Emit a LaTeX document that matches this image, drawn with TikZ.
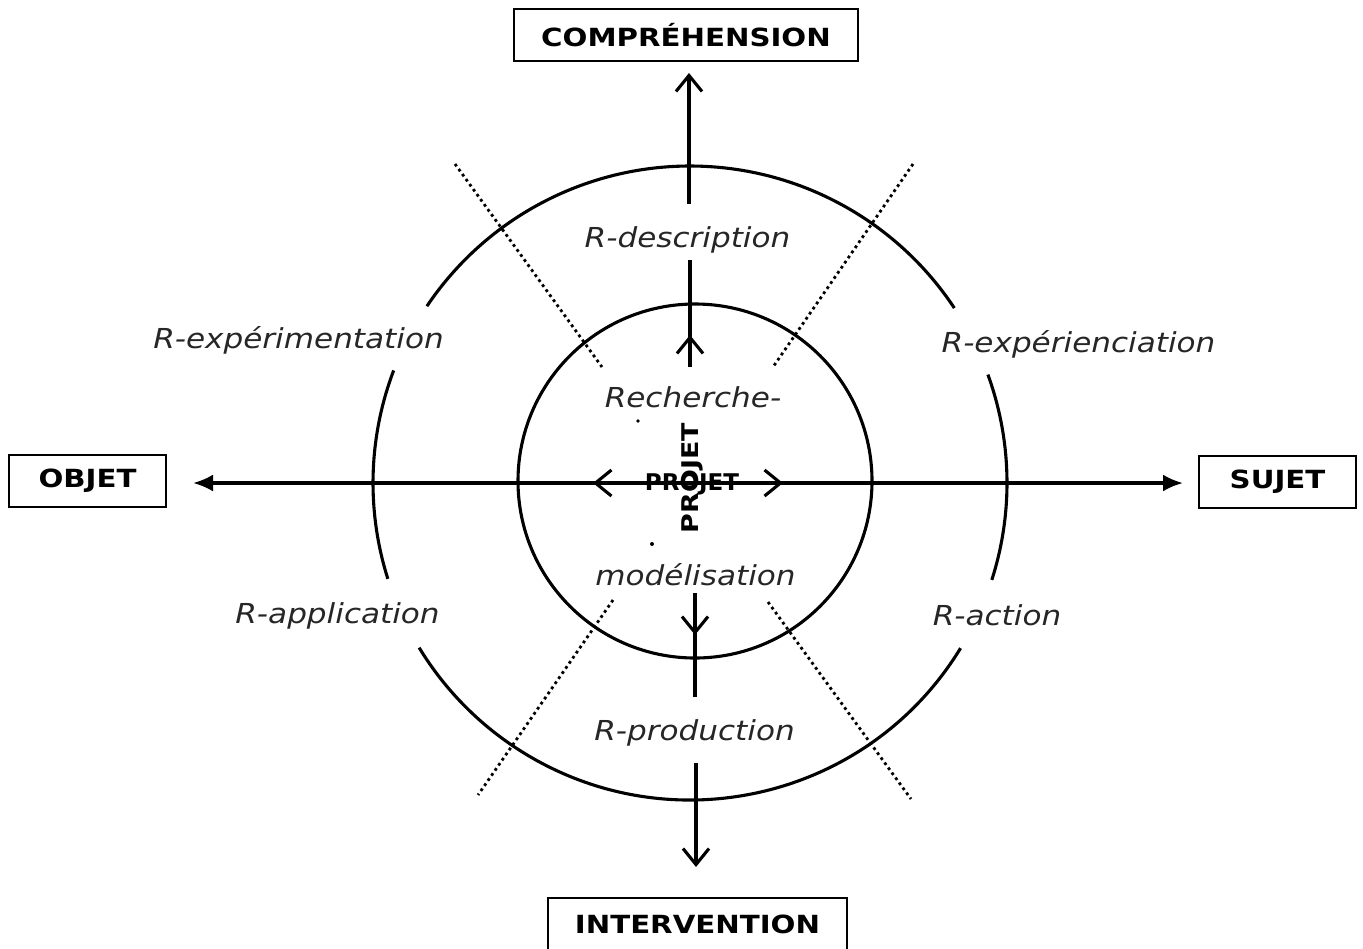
\documentclass[tikz,border=0pt]{standalone}
\usepackage{fontspec}
\setmainfont{DejaVu Sans}
\newfontfamily\itf[FakeStretch=1.13]{DejaVu Sans}
\newfontfamily\bff[FakeStretch=1.17]{DejaVu Sans}
\usetikzlibrary{arrows.meta}
\begin{document}
\begin{tikzpicture}[x=1pt,y=-1pt,
  lw/.style={line width=3.1pt},
  box/.style={draw, line width=2pt, minimum height=52pt, inner sep=0pt,
    font=\bff\bfseries\fontsize{25}{28}\selectfont},
  lab/.style={font=\itf\itshape\fontsize{27.5}{30}\selectfont, inner sep=0pt, anchor=base, text=black!85},
  proj/.style={font=\bfseries\fontsize{23}{26}\selectfont, inner sep=0pt, anchor=base},
  dots/.style={line width=2.8pt, dash pattern=on 2.8pt off 3.4pt},
  oarrow/.style={-{Straight Barb[length=16pt,width=26pt]}},
  farrow/.style={{Latex[length=20pt,width=17pt]}-{Latex[length=20pt,width=17pt]}}
]
\useasboundingbox (0,0) rectangle (1363,948);

% boxes
\node[box, minimum width=344pt] (comp) at (686,35) {COMPRÉHENSION};
\node[box, minimum width=157pt] (obj) at (87.5,481) {OBJET};
\node[box, minimum width=157pt] (suj) at (1277.5,482) {SUJET};
\node[box, minimum width=299pt] (int) at (697.5,924) {INTERVENTION};

% centres
\coordinate (C) at (690,483);
\coordinate (Ci) at (695,481);

% outer circle arcs (with gaps for labels)
\draw[lw] ([shift={(340:317)}]C) arc[start angle=340, end angle=377.8, radius=317];
\draw[lw] ([shift={(31.4:317)}]C) arc[start angle=31.4, end angle=148.7, radius=317];
\draw[lw] ([shift={(162.4:317)}]C) arc[start angle=162.4, end angle=200.8, radius=317];
\draw[lw] ([shift={(213.9:317)}]C) arc[start angle=213.9, end angle=326.5, radius=317];

% inner circle
\draw[lw] (Ci) circle[radius=177];

% dotted separators
\coordinate (d1a) at (455,164); \coordinate (d1b) at (602,367);
\coordinate (d2a) at (913,164); \coordinate (d2b) at (773,367);
\coordinate (d3a) at (613,600); \coordinate (d3b) at (478,795);
\coordinate (d4a) at (768,602); \coordinate (d4b) at (911,799);
\draw[dots] (d1a) -- (d1b);
\draw[dots] (d2a) -- (d2b);
\draw[dots] (d3a) -- (d3b);
\draw[dots] (d4a) -- (d4b);

% horizontal axis
\coordinate (hl) at (193,483);
\coordinate (hr) at (1183,483);
\coordinate (hc) at (695,483);
\coordinate (il) at (593,483);
\coordinate (ir) at (783,483);
\draw[lw, farrow] (hl) -- (hr);
\draw[lw, oarrow] (hc) -- (il);
\draw[lw, oarrow] (hc) -- (ir);

% vertical axis
\coordinate (v1a) at (689,204); \coordinate (v1b) at (689,73);
\coordinate (v2a) at (690,367); \coordinate (v2b) at (690,260); \coordinate (v2t) at (690,335);
\coordinate (v3a) at (695,593); \coordinate (v3b) at (695,697); \coordinate (v3t) at (695,635);
\coordinate (v4a) at (696,763); \coordinate (v4b) at (696,867);
\draw[lw, oarrow] (v1a) -- (v1b);
\draw[lw] (v2a) -- (v2b);
\draw[lw, oarrow] (v2a) -- (v2t);
\draw[lw] (v3a) -- (v3b);
\draw[lw, oarrow] (v3a) -- (v3t);
\draw[lw, oarrow] (v4a) -- (v4b);

% labels
\node[lab] (rdesc) at (687.5,247) {R-description};
\node[lab] (rexpm) at (298.5,348) {R-expérimentation};
\node[lab] (rexpc) at (1078.5,352) {R-expérienciation};
\node[lab] (ract) at (997,625) {R-action};
\node[lab] (rapp) at (337.5,623) {R-application};
\node[lab] (rprod) at (694.5,740) {R-production};
\node[lab] (rech) at (693,407) {Recherche-};
\node[lab] (mod) at (695.5,585) {modélisation};

\node[proj] (p1) at (692,490) {PROJET};
\node[proj, font=\bff\bfseries\fontsize{23}{26}\selectfont, rotate=90] (p2) at (698,478) {PROJET};

% stray dots
\fill (638,421) circle[radius=1.8];
\fill (652,544) circle[radius=2];
\end{tikzpicture}
\end{document}
